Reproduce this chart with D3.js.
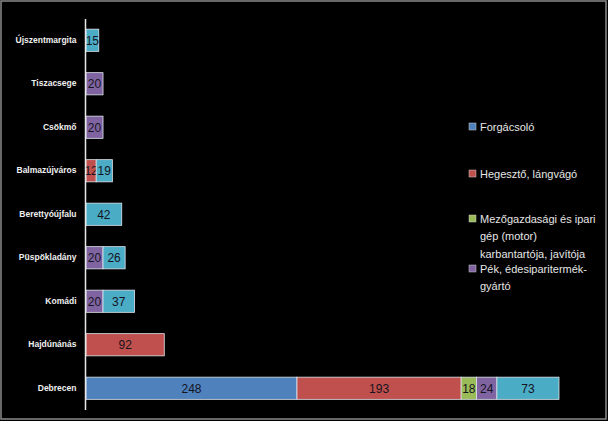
<!DOCTYPE html>
<html><head><meta charset="utf-8">
<script src="https://cdn.jsdelivr.net/npm/d3@7"></script>
<style>html,body{margin:0;padding:0;background:#000;}svg{display:block;}</style>
</head><body>
<script>
const categories = ["Újszentmargita","Tiszacsege","Csökmő","Balmazújváros","Berettyóújfalu","Püspökladány","Komádi","Hajdúnánás","Debrecen"];
const seriesNames = ["Forgácsoló","Hegesztő, lángvágó","Mezőgazdasági és ipari gép (motor) karbantartója, javítója","Pék, édesiparitermék-gyártó","Egyéb"];
const forgacsolo = [0,0,0,0,0,0,0,0,248];
const hegeszto   = [0,0,0,12,0,0,0,92,193];
const mezogazd   = [0,0,0,0,0,0,0,0,18];
const pek        = [0,20,20,0,0,20,20,0,24];
const egyeb      = [15,0,0,19,42,26,37,0,73];
const colors = ["#4F81BD","#C0504D","#9BBB59","#8064A2","#4BACC6"];
const legendLines = [["Forgácsoló"],["Hegesztő, lángvágó"],["Mezőgazdasági és ipari","gép (motor)","karbantartója, javítója"],["Pék, édesiparitermék-","gyártó"]];

const W=608,H=421;
const svg=d3.select("body").append("svg").attr("width",W).attr("height",H);
svg.append("rect").attr("x",0).attr("y",0).attr("width",W).attr("height",H).attr("fill","#000");
svg.append("rect").attr("x",1).attr("y",1).attr("width",W-3).attr("height",H-3).attr("fill","none").attr("stroke","#8a8a8a").attr("stroke-width",1.5);

const rows = categories.map((c,i)=>({cat:c, s0:forgacsolo[i], s1:hegeszto[i], s2:mezogazd[i], s3:pek[i], s4:egyeb[i]}));
const keys=["s0","s1","s2","s3","s4"];
const stack=d3.stack().keys(keys)(rows);

const x=d3.scaleLinear().domain([0,556]).range([86,559]);
const y=d3.scaleBand().domain(categories).range([18.5,410]).paddingInner(0.49).paddingOuter(0.245);

stack.forEach((layer,k)=>{
  const g=svg.append("g");
  layer.forEach(d=>{
    const v=d[1]-d[0];
    if(v<=0) return;
    g.append("rect").attr("x",x(d[0])).attr("y",y(d.data.cat)).attr("width",x(d[1])-x(d[0])).attr("height",y.bandwidth())
      .attr("fill",colors[k]).attr("stroke","#dfe6ee").attr("stroke-width",0.8);
  });
  layer.forEach(d=>{
    const v=d[1]-d[0];
    if(v<=0) return;
    g.append("text").attr("x",(x(d[0])+x(d[1]))/2).attr("y",y(d.data.cat)+y.bandwidth()/2).attr("dy","0.36em")
      .attr("text-anchor","middle").attr("font-family","Liberation Sans, Arial, sans-serif").attr("font-size",12)
      .attr("fill","#14141e").text(v);
  });
});

// axis
const yAxis=d3.axisLeft(y).tickSize(0).tickPadding(9);
const ax=svg.append("g").attr("transform","translate(85.5,0)").call(yAxis);
ax.select(".domain").attr("stroke","#e8e8e8").attr("stroke-width",1.5).attr("d","M0,19V410");
ax.selectAll("text").attr("fill","#f0f0f0").attr("font-family","Liberation Sans, Arial, sans-serif").attr("font-size",8.5).attr("font-weight","bold");

// legend
const legendY=[127,174,219,269];
const lg=svg.append("g");
legendLines.forEach((lines,i)=>{
  lg.append("rect").attr("x",469).attr("y",legendY[i]-4).attr("width",7).attr("height",7).attr("fill",colors[i]).attr("stroke","#ccc").attr("stroke-width",0.5);
  lines.forEach((t,j)=>{
    lg.append("text").attr("x",480).attr("y",legendY[i]+j*17.5).attr("dy","0.35em")
      .attr("font-family","Liberation Sans Narrow, Liberation Sans, Arial, sans-serif").attr("font-size",11)
      .attr("fill","#e6e6e6").text(t);
  });
});
</script>
</body></html>
